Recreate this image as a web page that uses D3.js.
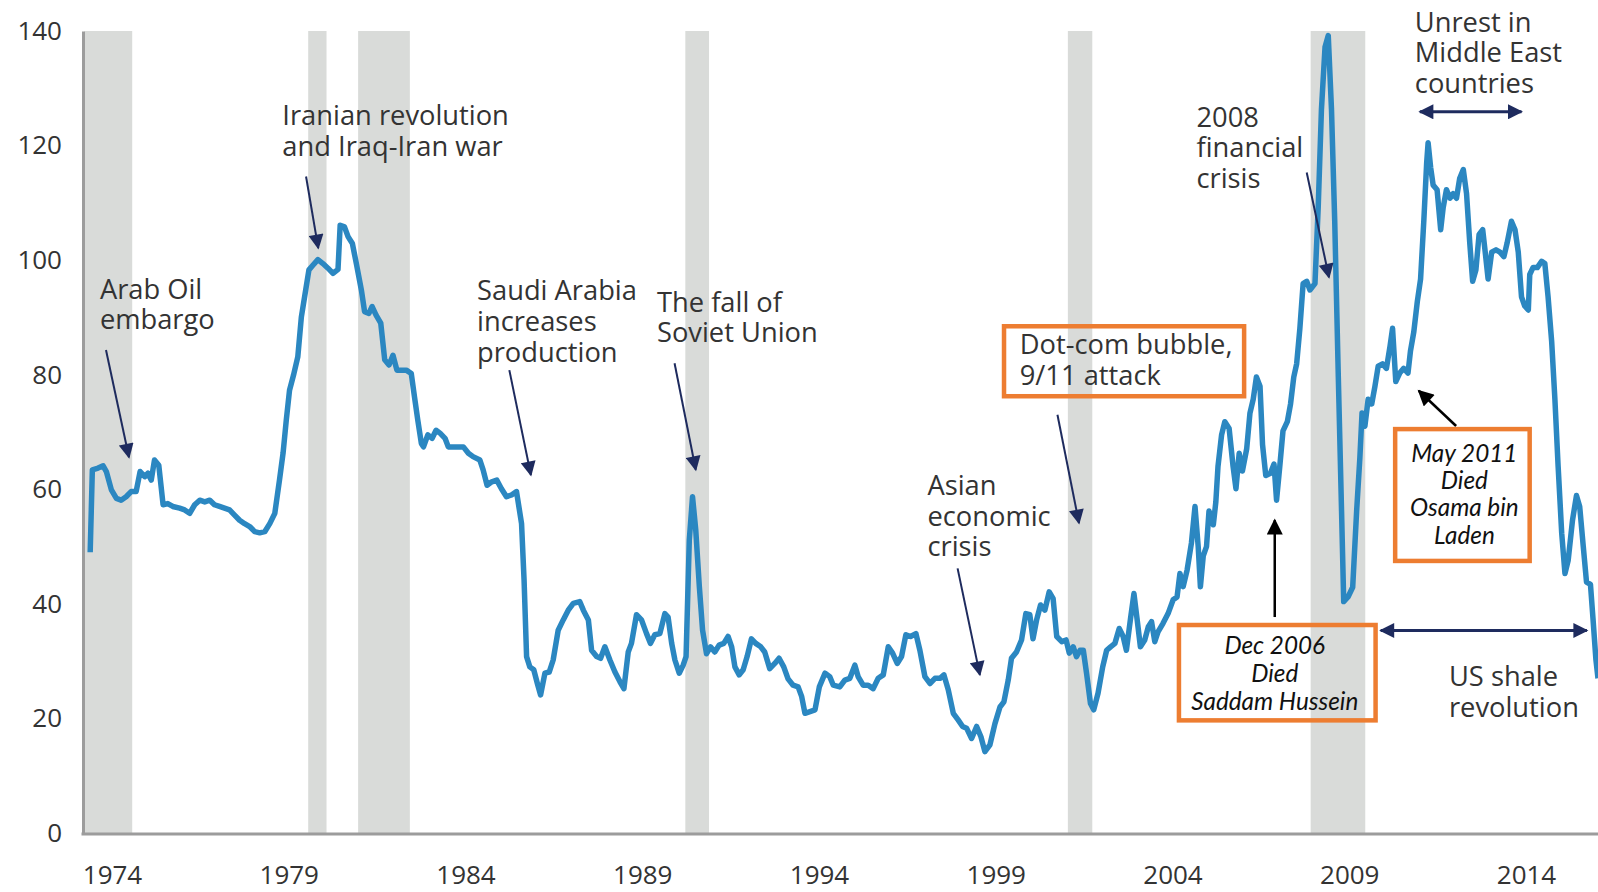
<!DOCTYPE html>
<html>
<head>
<meta charset="utf-8">
<script src="https://cdn.jsdelivr.net/npm/d3@7"></script>
<style>
  body { margin: 0; background: #fff; }
  svg { display: block; }
  .note { font-family: "Open Sans", sans-serif; font-size: 27.3px; fill: #333; }
  .boxnote { font-family: Lato, sans-serif; font-style: italic; font-size: 24.3px; fill: #111; }
  .axis text { font-family: "Open Sans", sans-serif; font-size: 26px; fill: #333; }
</style>
</head>
<body>
<svg id="chart" width="1598" height="892"></svg>
<script>
    // monthly-ish readings of the oil price line (decimal year, value)
    var priceYears = [
      1973.91, 1973.97, 1974.13, 1974.27, 1974.36, 1974.50, 1974.64, 1974.77, 1974.91, 1975.05,
      1975.19, 1975.30, 1975.43, 1975.52, 1975.61, 1975.70, 1975.82, 1975.94, 1976.07, 1976.21,
      1976.40, 1976.54, 1976.68, 1976.82, 1976.96, 1977.10, 1977.24, 1977.37, 1977.51, 1977.65,
      1977.79, 1977.93, 1978.07, 1978.21, 1978.35, 1978.49, 1978.63, 1978.77, 1978.91, 1979.05,
      1979.18, 1979.28, 1979.37, 1979.46, 1979.57, 1979.69, 1979.79, 1979.88, 1980.00, 1980.11,
      1980.25, 1980.39, 1980.53, 1980.67, 1980.81, 1980.87, 1980.99, 1981.09, 1981.21, 1981.32,
      1981.46, 1981.55, 1981.67, 1981.76, 1981.87, 1982.00, 1982.11, 1982.23, 1982.34, 1982.45,
      1982.57, 1982.71, 1982.85, 1982.94, 1983.03, 1983.13, 1983.19, 1983.31, 1983.43, 1983.54,
      1983.65, 1983.79, 1983.88, 1984.06, 1984.30, 1984.44, 1984.57, 1984.76, 1984.85, 1984.96,
      1985.09, 1985.23, 1985.36, 1985.50, 1985.64, 1985.78, 1985.92, 1985.99, 1986.06, 1986.15,
      1986.26, 1986.36, 1986.45, 1986.57, 1986.69, 1986.80, 1986.94, 1987.08, 1987.22, 1987.36,
      1987.54, 1987.64, 1987.78, 1987.87, 1988.01, 1988.12, 1988.24, 1988.38, 1988.52, 1988.66,
      1988.77, 1988.89, 1988.98, 1989.12, 1989.26, 1989.40, 1989.51, 1989.63, 1989.77, 1989.91,
      1990.00, 1990.10, 1990.19, 1990.31, 1990.42, 1990.50, 1990.59, 1990.68, 1990.77, 1990.87,
      1990.96, 1991.07, 1991.18, 1991.30, 1991.42, 1991.55, 1991.67, 1991.77, 1991.86, 1991.98,
      1992.09, 1992.20, 1992.32, 1992.44, 1992.58, 1992.69, 1992.83, 1992.97, 1993.09, 1993.22,
      1993.34, 1993.48, 1993.62, 1993.72, 1993.81, 1993.95, 1994.09, 1994.21, 1994.37, 1994.50,
      1994.60, 1994.78, 1994.92, 1995.06, 1995.20, 1995.29, 1995.43, 1995.57, 1995.71, 1995.85,
      1995.99, 1996.13, 1996.25, 1996.38, 1996.50, 1996.62, 1996.75, 1996.90, 1997.01, 1997.15,
      1997.29, 1997.43, 1997.57, 1997.68, 1997.80, 1997.94, 1998.08, 1998.20, 1998.31, 1998.45,
      1998.59, 1998.71, 1998.82, 1998.96, 1999.10, 1999.24, 1999.35, 1999.47, 1999.56, 1999.70,
      1999.84, 1999.96, 2000.07, 2000.16, 2000.26, 2000.37, 2000.49, 2000.61, 2000.72, 2000.82,
      2000.96, 2001.08, 2001.17, 2001.28, 2001.37, 2001.47, 2001.56, 2001.65, 2001.76, 2001.85,
      2001.97, 2002.10, 2002.21, 2002.32, 2002.44, 2002.56, 2002.67, 2002.76, 2002.88, 2002.97,
      2003.06, 2003.15, 2003.27, 2003.37, 2003.46, 2003.55, 2003.64, 2003.78, 2003.92, 2004.06,
      2004.17, 2004.25, 2004.34, 2004.45, 2004.57, 2004.67, 2004.76, 2004.82, 2004.90, 2004.99,
      2005.06, 2005.18, 2005.25, 2005.31, 2005.41, 2005.50, 2005.62, 2005.73, 2005.81, 2005.90,
      2005.99, 2006.11, 2006.20, 2006.29, 2006.38, 2006.48, 2006.55, 2006.64, 2006.77, 2006.87,
      2006.94, 2007.03, 2007.12, 2007.24, 2007.33, 2007.42, 2007.50, 2007.59, 2007.68, 2007.78,
      2007.87, 2008.01, 2008.10, 2008.19, 2008.29, 2008.38, 2008.47, 2008.56, 2008.66, 2008.75,
      2008.81, 2008.93, 2009.06, 2009.17, 2009.26, 2009.32, 2009.40, 2009.49, 2009.59, 2009.68,
      2009.77, 2009.89, 2010.00, 2010.10, 2010.17, 2010.26, 2010.37, 2010.48, 2010.60, 2010.67,
      2010.76, 2010.86, 2010.95, 2011.04, 2011.12, 2011.16, 2011.23, 2011.30, 2011.41, 2011.51,
      2011.58, 2011.67, 2011.77, 2011.86, 2011.95, 2012.04, 2012.14, 2012.23, 2012.32, 2012.40,
      2012.49, 2012.58, 2012.68, 2012.75, 2012.83, 2012.93, 2013.05, 2013.16, 2013.27, 2013.36,
      2013.48, 2013.58, 2013.67, 2013.76, 2013.85, 2013.95, 2013.99, 2014.08, 2014.20, 2014.32,
      2014.41, 2014.50, 2014.60, 2014.69, 2014.78, 2014.88, 2014.97, 2015.06, 2015.18, 2015.29,
      2015.38, 2015.48, 2015.57, 2015.68, 2015.75, 2015.83, 2015.89
    ];
    var priceValues = [
      49.0, 63.4, 63.7, 64.1, 63.1, 59.9, 58.4, 58.1, 58.7, 59.6,
      59.6, 63.1, 62.2, 62.8, 61.6, 65.1, 64.2, 57.3, 57.5, 57.0,
      56.7, 56.4, 55.8, 57.3, 58.1, 57.8, 58.1, 57.3, 57.0, 56.7,
      56.4, 55.5, 54.6, 54.0, 53.5, 52.6, 52.4, 52.6, 54.0, 55.8,
      61.6, 66.3, 72.1, 77.3, 79.9, 83.1, 90.1, 93.6, 98.3, 99.1,
      100.1, 99.4, 98.6, 97.7, 98.4, 106.1, 105.8, 104.1, 102.9, 99.4,
      94.8, 91.0, 90.7, 91.9, 90.4, 89.0, 82.6, 81.7, 83.4, 80.8,
      80.8, 80.8, 80.2, 76.1, 72.1, 68.0, 67.4, 69.5, 68.9, 70.3,
      69.8, 68.9, 67.4, 67.4, 67.4, 66.3, 65.7, 65.1, 63.4, 60.7,
      61.3, 61.6, 60.1, 58.7, 59.0, 59.6, 54.0, 44.2, 30.8, 29.0,
      28.5, 26.1, 24.1, 27.9, 28.1, 30.2, 35.4, 37.2, 38.9, 40.1,
      40.4, 38.9, 37.2, 31.9, 30.8, 30.5, 32.5, 30.2, 28.1, 26.4,
      25.2, 31.6, 33.1, 38.1, 37.2, 34.8, 33.1, 34.6, 34.8, 38.3,
      37.7, 33.1, 30.2, 27.9, 29.3, 30.8, 51.1, 58.7, 52.9, 43.0,
      35.4, 31.3, 32.5, 31.6, 32.8, 33.1, 34.3, 32.5, 29.0, 27.6,
      28.5, 30.8, 33.9, 33.1, 32.5, 31.6, 28.7, 29.6, 30.5, 29.0,
      26.9, 25.8, 25.5, 23.8, 20.9, 21.2, 21.5, 25.5, 27.9, 27.3,
      25.8, 25.5, 26.7, 27.0, 29.3, 27.3, 25.8, 25.8, 25.2, 27.0,
      27.6, 32.5, 31.4, 29.6, 30.8, 34.6, 34.3, 34.8, 31.9, 27.3,
      26.1, 27.0, 27.0, 27.6, 25.0, 20.9, 19.7, 18.6, 18.3, 16.5,
      18.6, 16.8, 14.2, 15.4, 19.1, 22.0, 22.9, 26.7, 30.5, 31.6,
      33.7, 38.3, 38.1, 33.9, 37.2, 39.8, 38.9, 42.1, 40.9, 34.3,
      33.4, 33.7, 31.4, 32.5, 30.8, 31.9, 31.9, 27.9, 22.6, 21.5,
      24.4, 29.0, 31.9, 32.5, 33.1, 35.7, 34.3, 31.9, 37.7, 41.8,
      37.2, 32.5, 33.7, 36.0, 36.9, 33.4, 35.1, 36.6, 38.3, 40.7,
      41.2, 45.3, 43.0, 45.9, 50.6, 57.0, 49.9, 43.0, 48.4, 50.0,
      56.2, 53.8, 57.8, 64.0, 69.5, 71.8, 70.6, 64.0, 60.1, 66.3,
      63.2, 67.1, 73.3, 75.7, 79.6, 78.0, 67.8, 62.4, 62.8, 64.4,
      58.1, 64.0, 70.2, 71.8, 74.9, 79.6, 81.9, 88.1, 95.9, 96.3,
      94.8, 95.9, 109.2, 126.3, 137.2, 139.2, 126.3, 106.8, 79.6, 56.2,
      40.4, 41.2, 42.9, 56.2, 65.5, 73.3, 71.0, 75.7, 74.9, 78.0,
      81.5, 81.9, 81.1, 85.0, 88.1, 78.8, 80.3, 81.1, 80.3, 84.2,
      87.4, 92.8, 96.7, 106.8, 117.0, 120.5, 116.2, 113.1, 112.3, 105.3,
      109.2, 112.3, 110.8, 111.6, 110.8, 114.3, 115.8, 111.6, 103.0, 96.3,
      98.3, 104.5, 105.3, 101.4, 96.7, 101.4, 101.8, 101.4, 100.6, 103.0,
      106.8, 105.3, 101.4, 93.6, 92.0, 91.3, 97.5, 98.7, 98.7, 99.8,
      99.4, 93.6, 85.8, 75.7, 64.0, 52.3, 45.3, 47.6, 54.6, 58.9,
      57.0, 50.0, 43.8, 43.4, 37.5, 30.4, 27.0
    ];

    // shaded periods (recessions)
    var shadeStart = [1973.75, 1979.98, 1981.37, 1990.48, 2001.13, 2007.89];
    var shadeEnd   = [1975.08, 1980.49, 1982.81, 1991.14, 2001.81, 2009.41];

    var yTicks = [0, 20, 40, 60, 80, 100, 120, 140];
    var xTickYears = [1974, 1979, 1984, 1989, 1994, 1999, 2004, 2009, 2014];

    var svg = d3.select("#chart");

    var x = d3.scaleLinear().domain([1973.71, 2015.89]).range([83, 1598]);
    var y = d3.scaleLinear().domain([0, 140]).range([833, 31]);
    // year labels sit on their own spacing in the original
    var xLabel = d3.scaleLinear().domain([1974, 2014]).range([112, 1526]);

    // shaded bands
    svg.append("g")
      .selectAll("rect")
      .data(d3.range(shadeStart.length))
      .enter().append("rect")
      .attr("x", function(i) { return x(shadeStart[i]); })
      .attr("y", y(140))
      .attr("width", function(i) { return x(shadeEnd[i]) - x(shadeStart[i]); })
      .attr("height", y(0) - y(140) + 1)
      .attr("fill", "#d9dbd9");

    // axes
    var yAxis = svg.append("g")
      .attr("class", "axis")
      .attr("transform", "translate(83,0)")
      .call(d3.axisLeft(y).tickValues(yTicks).tickSize(0).tickPadding(21));
    yAxis.select(".domain").attr("stroke", "#9c9c9c").attr("stroke-width", 3);

    var xAxis = svg.append("g")
      .attr("class", "axis")
      .attr("transform", "translate(0,834)")
      .call(d3.axisBottom(xLabel).tickValues(xTickYears).tickFormat(d3.format("d")).tickSize(0).tickPadding(32));
    xAxis.select(".domain").remove();

    svg.append("line")
      .attr("x1", x.range()[0] - 1.5).attr("x2", x.range()[1])
      .attr("y1", 834).attr("y2", 834)
      .attr("stroke", "#9c9c9c").attr("stroke-width", 3);

    // price line
    var line = d3.line()
      .x(function(d, i) { return x(priceYears[i]); })
      .y(function(d) { return y(d); });

    svg.append("path")
      .datum(priceValues)
      .attr("fill", "none")
      .attr("stroke", "#2b87c1")
      .attr("stroke-width", 5.5)
      .attr("stroke-linejoin", "round")
      .attr("d", line);

    // arrow heads
    var defs = svg.append("defs");
    function marker(id, color, len, wid) {
      defs.append("marker")
        .attr("id", id)
        .attr("viewBox", "0 0 10 10")
        .attr("refX", 9).attr("refY", 5)
        .attr("markerUnits", "userSpaceOnUse")
        .attr("markerWidth", len).attr("markerHeight", wid)
        .attr("orient", "auto-start-reverse")
        .append("path")
        .attr("d", "M0,0L10,5L0,10z")
        .attr("fill", color);
    }
    marker("navy", "#1e2b5e", 16, 15);
    marker("black", "#000", 17, 16);

    var navyArrows = [
      [1974.35, 84.3, 1974.99, 65.6],
      [1979.92, 114.6, 1980.26, 102.1],
      [1985.58, 80.8, 1986.18, 62.5],
      [1990.18, 82.0, 1990.77, 63.4],
      [1998.06, 46.2, 1998.68, 27.6],
      [2000.84, 73.0, 2001.44, 54.1],
      [2007.78, 115.3, 2008.40, 97.0]
    ];
    var spanArrows = [
      [2010.93, 125.9, 2013.76, 125.9],
      [2009.84, 35.35, 2015.58, 35.35]
    ];
    var blackArrows = [
      [2006.89, 37.7, 2006.89, 54.6],
      [2011.94, 71.05, 2010.90, 77.2]
    ];

    function drawArrows(list, color, width, id, both) {
      svg.append("g").selectAll("line")
        .data(list)
        .enter().append("line")
        .attr("x1", function(d) { return x(d[0]); })
        .attr("y1", function(d) { return y(d[1]); })
        .attr("x2", function(d) { return x(d[2]); })
        .attr("y2", function(d) { return y(d[3]); })
        .attr("stroke", color)
        .attr("stroke-width", width)
        .attr("marker-end", "url(#" + id + ")")
        .attr("marker-start", both ? "url(#" + id + ")" : null);
    }
    drawArrows(navyArrows, "#1e2b5e", 2, "navy", false);
    drawArrows(spanArrows, "#1e2b5e", 3, "navy", true);
    drawArrows(blackArrows, "#000", 2.5, "black", false);

    // orange boxes
    var boxes = [
      [1999.29, 88.85, 2006.10, 75.85],
      [2004.16, 36.7, 2009.76, 19.27],
      [2010.18, 70.9, 2014.05, 47.1]
    ];
    svg.append("g").selectAll("rect")
      .data(boxes)
      .enter().append("rect")
      .attr("x", function(d) { return x(d[0]) + 2.25; })
      .attr("y", function(d) { return y(d[1]) + 2.25; })
      .attr("width", function(d) { return x(d[2]) - x(d[0]) - 4.5; })
      .attr("height", function(d) { return y(d[3]) - y(d[1]) - 4.5; })
      .attr("fill", "none")
      .attr("stroke", "#ed7d31")
      .attr("stroke-width", 4.5);

    // annotation text
    var notes = [
      {lines: ["Arab Oil", "embargo"], t: 1974.18, v: 95.0},
      {lines: ["Iranian revolution", "and Iraq-Iran war"], t: 1979.26, v: 125.3},
      {lines: ["Saudi Arabia", "increases", "production"], t: 1984.68, v: 94.7},
      {lines: ["The fall of", "Soviet Union"], t: 1989.69, v: 92.7},
      {lines: ["Asian", "economic", "crisis"], t: 1997.22, v: 60.7},
      {lines: ["Dot-com bubble,", "9/11 attack"], t: 1999.79, v: 85.3},
      {lines: ["2008", "financial", "crisis"], t: 2004.71, v: 125.0},
      {lines: ["Unrest in", "Middle East", "countries"], t: 2010.79, v: 141.6},
      {lines: ["US shale", "revolution"], t: 2011.74, v: 27.3}
    ];
    var boxNotes = [
      {lines: ["Dec 2006", "Died", "Saddam Hussein"], t: 2006.89, v: 32.8, gap: 28.3},
      {lines: ["May 2011", "Died", "Osama bin", "Laden"], t: 2012.17, v: 66.3, gap: 27.2}
    ];

    notes.forEach(function(n) {
      var txt = svg.append("text")
        .attr("class", "note");
      n.lines.forEach(function(l, i) {
        txt.append("tspan")
          .attr("x", x(n.t))
          .attr("y", y(n.v) + i * 30.6)
          .attr("dy", "0.36em")
          .text(l);
      });
    });

    boxNotes.forEach(function(n) {
      var txt = svg.append("text")
        .attr("class", "boxnote")
        .attr("text-anchor", "middle");
      n.lines.forEach(function(l, i) {
        txt.append("tspan")
          .attr("x", x(n.t))
          .attr("y", y(n.v) + i * n.gap)
          .attr("dy", "0.36em")
          .text(l);
      });
    });
</script>
</body>
</html>
